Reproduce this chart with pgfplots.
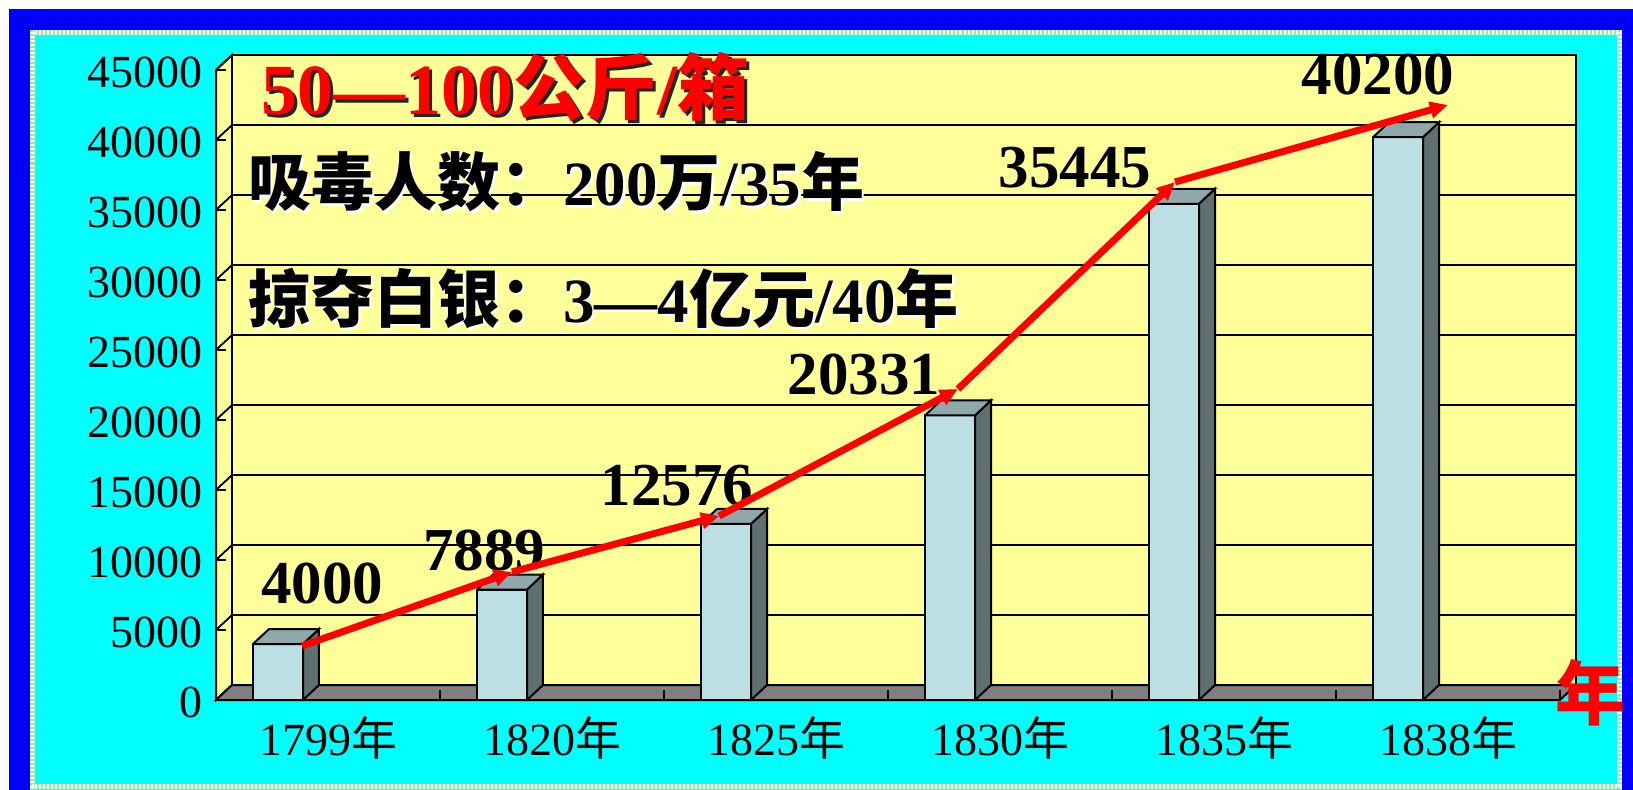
\documentclass[border=0pt]{standalone}
\usepackage{pgfplots}
\usepackage{pgfplotstable}
\pgfplotsset{compat=1.18}
\usetikzlibrary{arrows.meta}
\usepackage{fontspec}
\setmainfont{Liberation Serif}
\newfontfamily\cjk{Noto Sans CJK SC}

\definecolor{wall}{RGB}{255,255,153}
\definecolor{floorc}{RGB}{128,128,128}
\definecolor{barfront}{RGB}{187,223,227}
\definecolor{bartop}{RGB}{142,168,172}
\definecolor{barside}{RGB}{94,112,112}
\definecolor{frameblue}{RGB}{0,0,255}
\definecolor{bgcyan}{RGB}{0,255,255}
\definecolor{dotgreen}{RGB}{150,240,150}

\pgfplotstableread{
idx value
0 4000
1 7889
2 12576
3 20331
4 35445
5 40200
}\datatable

% side and top faces of a 3D bar: #1 = category index, #2 = value
\newcommand\sidetop[2]{%
  \pgfmathsetmacro\xR{#1-0.1116}%
  \pgfmathsetmacro\xL{#1-0.3348}%
  \pgfmathsetmacro\xRb{#1-0.0402}%
  \pgfmathsetmacro\xLb{#1-0.2634}%
  \edef\tmp{%
    \noexpand\addplot[draw=black, line width=1pt, fill=barside] coordinates {(\xR,0) (\xR,#2) (\xRb,\the\numexpr#2+1071\relax) (\xRb,1071) (\xR,0)};%
    \noexpand\addplot[draw=black, line width=1pt, fill=bartop] coordinates {(\xL,#2) (\xR,#2) (\xRb,\the\numexpr#2+1071\relax) (\xLb,\the\numexpr#2+1071\relax) (\xL,#2)};%
  }\tmp
}

\begin{document}
\begin{tikzpicture}
\path[use as bounding box] (0,0) rectangle (816.5pt,394.5pt);
\begin{scope}[x=0.5pt,y=-0.5pt,yshift=394.5pt]
  \fill[white] (0,0) rectangle (1633,789);
  \fill[frameblue] (9,9) rectangle (1640,800);
  \fill[bgcyan] (30,30) rectangle (1622,800);
  \draw[dotgreen, line width=2.5pt] (32.5,32.5) rectangle (1619.5,786);
  \draw[white, line width=2.5pt, dash pattern=on 1pt off 1pt] (32.5,32.5) rectangle (1619.5,786);
\end{scope}

\begin{axis}[
  at={(108pt,44.5pt)}, anchor=south west,
  scale only axis, width=672pt, height=315pt,
  xmin=-0.5, xmax=5.5, ymin=0, ymax=45000,
  clip=false,
  scaled y ticks=false,
  axis line style={draw=none},
  major tick length=0pt,
  xtick={0,1,2,3,4,5},
  xticklabels={1799{\cjk 年},1820{\cjk 年},1825{\cjk 年},1830{\cjk 年},1835{\cjk 年},1838{\cjk 年}},
  ytick={0,5000,10000,15000,20000,25000,30000,35000,40000,45000},
  yticklabels={0,5000,10000,15000,20000,25000,30000,35000,40000,45000},
  tick label style={font=\fontsize{23pt}{23pt}\selectfont, inner sep=0pt},
  yticklabel style={anchor=east, xshift=-6.5pt, yshift=-1pt},
  xticklabel style={anchor=center, yshift=-19pt},
]
% left wall
\filldraw[fill=wall, draw=black, line width=1pt] (axis cs:-0.5,0) -- (axis cs:-0.5,45000) -- ++(8pt,7.5pt) -- ++(0pt,-315pt) -- cycle;
% back wall
\filldraw[fill=wall, draw=black, line width=1pt] (axis cs:-0.5,0) ++(8pt,7.5pt) rectangle ++(672pt,315pt);
% grid lines
\pgfplotsinvokeforeach{5000,10000,15000,20000,25000,30000,35000,40000}{
  \draw[black, line width=0.8pt] (axis cs:-0.5,#1) -- ++(8pt,7.5pt) -- ++(672pt,0pt);
}
\pgfplotsinvokeforeach{0,5000,10000,15000,20000,25000,30000,35000,40000,45000}{
  \draw[black, line width=0.8pt] (axis cs:-0.5,#1) -- ++(8pt,7.5pt);
  \draw[black, line width=0.8pt] (axis cs:-0.5,#1) -- ++(5pt,0pt);
}
% floor
\filldraw[fill=floorc, draw=black, line width=1pt] (axis cs:-0.5,0) -- (axis cs:5.5,0) -- ++(8pt,7.5pt) -- ++(-672pt,0pt) -- cycle;
\pgfplotsinvokeforeach{0.5,1.5,2.5,3.5,4.5,5.5}{
  \draw[black, line width=0.8pt] (axis cs:#1,0) -- ++(0pt,5pt);
}
\draw[black, line width=1pt] (axis cs:-0.5,0) -- (axis cs:-0.5,45000);

% bars: front faces
\addplot[ybar, bar width=25pt, bar shift=-25pt, fill=barfront, draw=black, line width=1pt] table[x=idx, y=value] {\datatable};
% bars: side and top faces
\sidetop{0}{4000}
\sidetop{1}{7889}
\sidetop{2}{12576}
\sidetop{3}{20331}
\sidetop{4}{35445}
\sidetop{5}{40200}
\end{axis}

\begin{scope}[x=0.5pt,y=-0.5pt,yshift=394.5pt]
  % data labels
  \begin{scope}[every node/.style={inner sep=0pt, font=\bfseries\fontsize{30.5pt}{30.5pt}\selectfont}]
    \node at (322,584) {4000};
    \node at (484,551) {7889};
    \node at (677,486) {12576};
    \node at (864,375) {20331};
    \node at (1075,168) {35445};
    \node at (1378,75) {40200};
  \end{scope}
  % title texts
  \node[anchor=base west, inner sep=0pt, text=black!85, font=\bfseries\fontsize{36pt}{36pt}\selectfont] at (264,118) {50—100{\cjk 公斤}/{\cjk 箱}};
  \node[anchor=base west, inner sep=0pt, text=red, font=\bfseries\fontsize{36pt}{36pt}\selectfont] at (261,115) {50—100{\cjk 公斤}/{\cjk 箱}};
  \node[anchor=base west, inner sep=0pt, text=white, font=\bfseries\fontsize{31.5pt}{31.5pt}\selectfont] at (250.5,208.5) {{\cjk 吸毒人数：}200{\cjk 万}/35{\cjk 年}};
  \node[anchor=base west, inner sep=0pt, text=black, font=\bfseries\fontsize{31.5pt}{31.5pt}\selectfont] at (248,206) {{\cjk 吸毒人数：}200{\cjk 万}/35{\cjk 年}};
  \node[anchor=base west, inner sep=0pt, text=white, font=\bfseries\fontsize{31.5pt}{31.5pt}\selectfont] at (250.5,324.5) {{\cjk 掠夺白银：}3—4{\cjk 亿元}/40{\cjk 年}};
  \node[anchor=base west, inner sep=0pt, text=black, font=\bfseries\fontsize{31.5pt}{31.5pt}\selectfont] at (248,322) {{\cjk 掠夺白银：}3—4{\cjk 亿元}/40{\cjk 年}};
  % axis unit
  \node[inner sep=0pt, text=red, font=\cjk\bfseries\fontsize{35pt}{35pt}\selectfont] at (1590,693) {年};
\end{scope}

\begin{axis}[
  at={(108pt,44.5pt)}, anchor=south west,
  scale only axis, width=672pt, height=315pt,
  xmin=-0.5, xmax=5.5, ymin=0, ymax=45000,
  clip=false, hide axis,
]
% red trend arrows
\addplot[red, line width=3.5pt, -{Triangle[length=9pt,width=8pt]}] coordinates {(-0.116,3857) (0.821,9143)};
\addplot[red, line width=3.5pt, -{Triangle[length=9pt,width=8pt]}] coordinates {(0.821,9143) (1.746,13143)};
\addplot[red, line width=3.5pt, -{Triangle[length=9pt,width=8pt]}] coordinates {(1.746,13143) (2.8125,22214)};
\addplot[red, line width=3.5pt, -{Triangle[length=9pt,width=8pt]}] coordinates {(2.8125,22214) (3.781,37000)};
\addplot[red, line width=3.5pt, -{Triangle[length=9pt,width=8pt]}] coordinates {(3.781,37000) (5.0,42500)};
\end{axis}
\end{tikzpicture}
\end{document}
